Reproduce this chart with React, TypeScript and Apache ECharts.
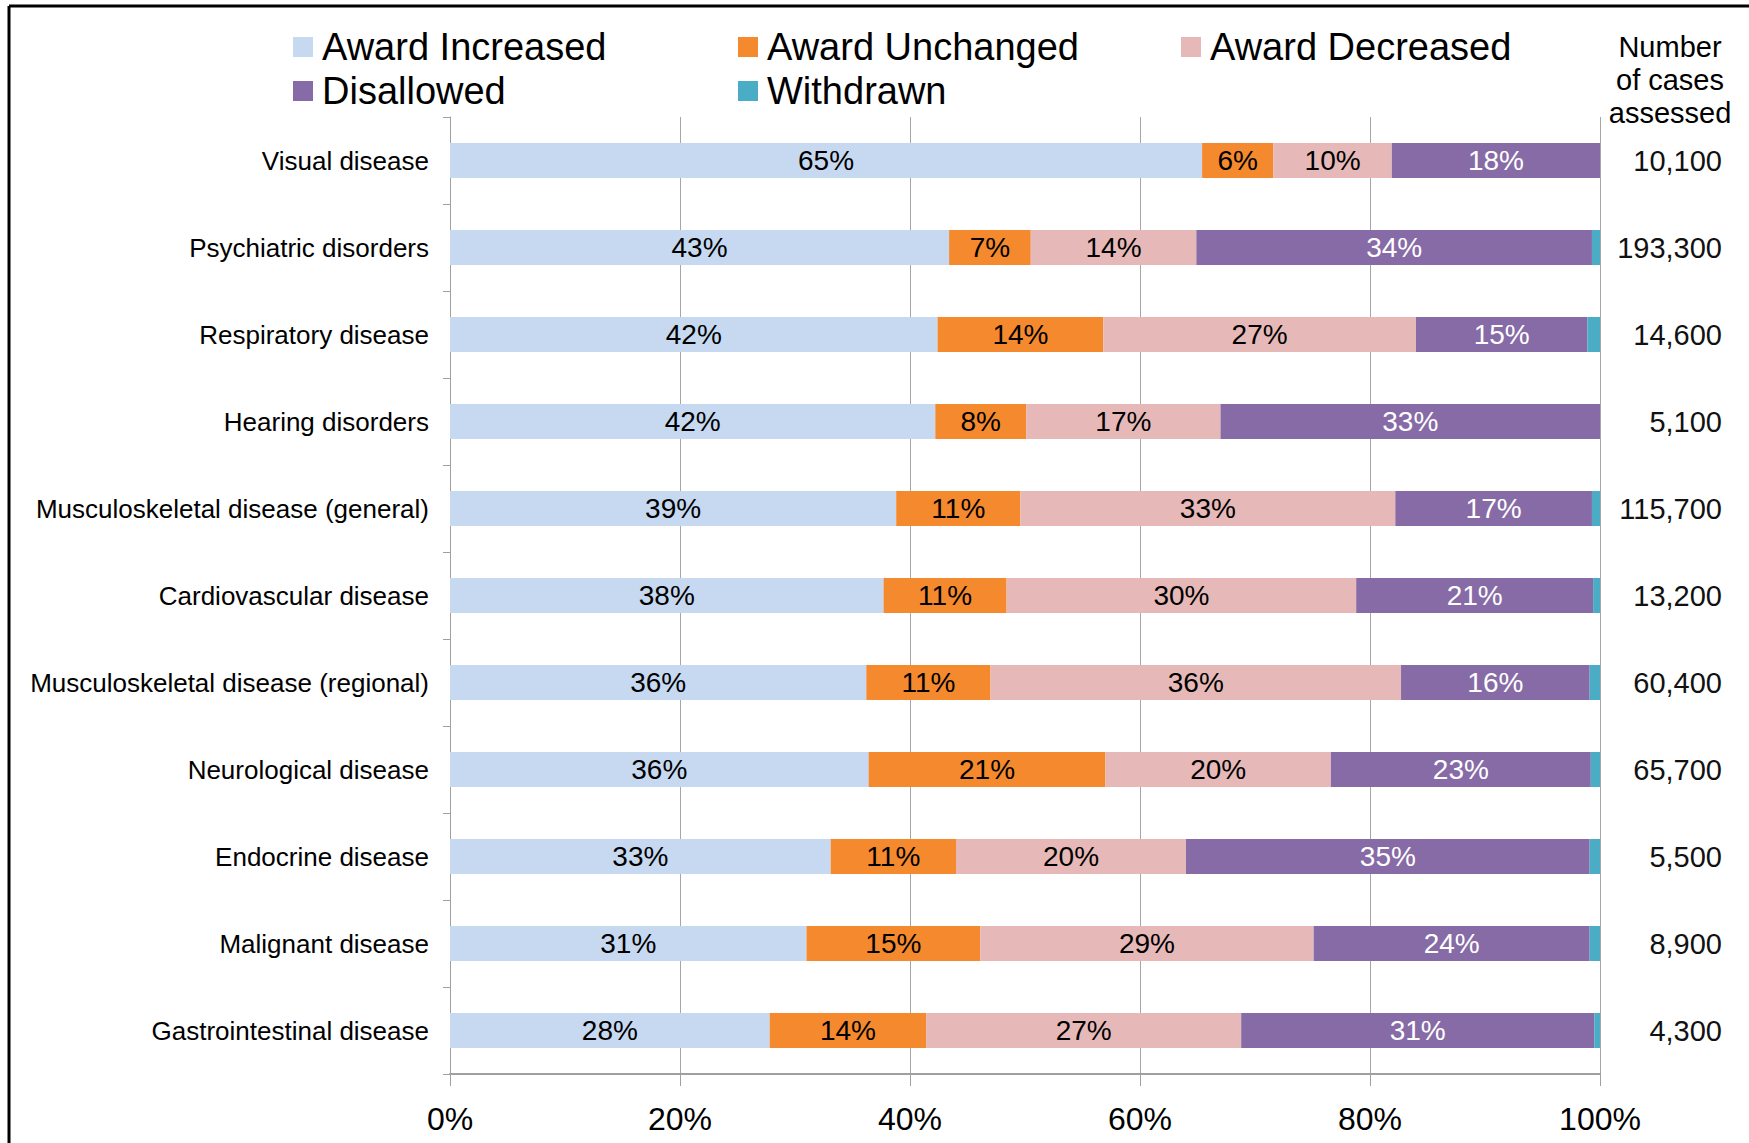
import React, { useEffect, useRef } from "react";
import * as echarts from "echarts";

const categories = [
  "Visual disease",
  "Psychiatric disorders",
  "Respiratory disease",
  "Hearing disorders",
  "Musculoskeletal disease (general)",
  "Cardiovascular disease",
  "Musculoskeletal disease (regional)",
  "Neurological disease",
  "Endocrine disease",
  "Malignant disease",
  "Gastrointestinal disease",
];

const casesAssessed = [
  "10,100",
  "193,300",
  "14,600",
  "5,100",
  "115,700",
  "13,200",
  "60,400",
  "65,700",
  "5,500",
  "8,900",
  "4,300",
];

const awardIncreased = [65.4, 43.4, 42.4, 42.2, 38.8, 37.7, 36.2, 36.4, 33.1, 31.0, 27.8];
const awardUnchanged = [6.2, 7.1, 14.4, 7.9, 10.8, 10.7, 10.8, 20.6, 10.9, 15.1, 13.6];
const awardDecreased = [10.3, 14.4, 27.2, 16.9, 32.6, 30.4, 35.7, 19.6, 20.0, 29.0, 27.4];
const disallowed = [18.1, 34.4, 14.9, 33.0, 17.1, 20.6, 16.4, 22.6, 35.1, 24.0, 30.7];
const withdrawn = [0, 0.7, 1.1, 0, 0.7, 0.6, 0.9, 0.8, 0.9, 0.9, 0.5];

const xTicks = [0, 20, 40, 60, 80, 100];

const FONT = "Liberation Sans, Arial, sans-serif";

const seriesDefs = [
  { name: "Award Increased", data: awardIncreased, color: "#C6D9F1", labelColor: "#000", showLabel: true },
  { name: "Award Unchanged", data: awardUnchanged, color: "#F5892E", labelColor: "#000", showLabel: true },
  { name: "Award Decreased", data: awardDecreased, color: "#E6B9B8", labelColor: "#000", showLabel: true },
  { name: "Disallowed", data: disallowed, color: "#866BA6", labelColor: "#fff", showLabel: true },
  { name: "Withdrawn", data: withdrawn, color: "#4BACC6", labelColor: "#000", showLabel: false },
];

const legendPos = [
  { left: 293, top: 27 },
  { left: 738, top: 27 },
  { left: 1181, top: 27 },
  { left: 293, top: 71 },
  { left: 738, top: 71 },
];

export default function App() {
  const ref = useRef<HTMLDivElement>(null);

  useEffect(() => {
    if (!ref.current) return;
    const chart = echarts.init(ref.current, undefined, { renderer: "svg" });

    const option: any = {
      animation: false,
      backgroundColor: "#ffffff",
      textStyle: { fontFamily: FONT },
      legend: seriesDefs.map((s, i) => ({
        data: [s.name],
        left: legendPos[i].left,
        top: legendPos[i].top,
        padding: 0,
        icon: "rect",
        itemWidth: 20,
        itemHeight: 20,
        itemStyle: { borderWidth: 0 },
        selectedMode: false,
        textStyle: {
          fontFamily: FONT,
          fontSize: 38,
          lineHeight: 40,
          color: "#000",
          padding: [0, 0, 0, 4],
        },
      })),
      grid: { left: 450, right: 149, top: 117, bottom: 69, containLabel: false },
      xAxis: {
        type: "value",
        min: 0,
        max: 100,
        interval: 20,
        axisLine: { show: true, lineStyle: { color: "#A0A0A0", width: 2 } },
        axisTick: { show: true, length: 12, lineStyle: { color: "#A0A0A0", width: 1 } },
        splitLine: { show: true, lineStyle: { color: "#A6A6A6", width: 1 } },
        axisLabel: {
          formatter: (v: number) => (xTicks.includes(v) ? v + "%" : ""),
          fontSize: 32,
          color: "#000",
          margin: 29,
          fontFamily: FONT,
        },
      },
      yAxis: [
        {
          type: "category",
          data: categories,
          inverse: true,
          axisLine: { show: true, lineStyle: { color: "#A0A0A0", width: 1 } },
          axisTick: { show: true, length: 7, lineStyle: { color: "#A0A0A0" } },
          axisLabel: { fontSize: 26, color: "#000", margin: 21, fontFamily: FONT },
        },
        {
          type: "category",
          data: casesAssessed,
          inverse: true,
          position: "right",
          axisLine: { show: false },
          axisTick: { show: false },
          axisLabel: {
            fontSize: 29,
            color: "#111",
            margin: 122,
            align: "right",
            fontFamily: FONT,
          },
        },
      ],
      graphic: [
        {
          type: "line",
          shape: { x1: 9, y1: 6, x2: 1749, y2: 6 },
          style: { stroke: "#000", lineWidth: 3 },
        },
        {
          type: "line",
          shape: { x1: 9, y1: 6, x2: 9, y2: 1143 },
          style: { stroke: "#000", lineWidth: 3 },
        },
        {
          type: "text",
          x: 1670,
          y: 80,
          style: {
            text: "Number\nof cases\nassessed",
            fontSize: 29,
            lineHeight: 33,
            fontFamily: FONT,
            fill: "#000",
            textAlign: "center",
            textVerticalAlign: "middle",
          },
        },
      ],
      series: seriesDefs.map((s) => ({
        name: s.name,
        type: "bar",
        stack: "total",
        barWidth: 35,
        yAxisIndex: 0,
        data: s.data,
        itemStyle: { color: s.color },
        label: {
          show: s.showLabel,
          position: "inside",
          fontSize: 28,
          fontFamily: FONT,
          color: s.labelColor,
          formatter: (p: any) => Math.round(p.value) + "%",
        },
        emphasis: { disabled: true },
      })),
    };

    chart.setOption(option);
    return () => chart.dispose();
  }, []);

  return (
    <div
      ref={ref}
      style={{ position: "fixed", left: 0, top: 0, width: 1749, height: 1143 }}
    />
  );
}
